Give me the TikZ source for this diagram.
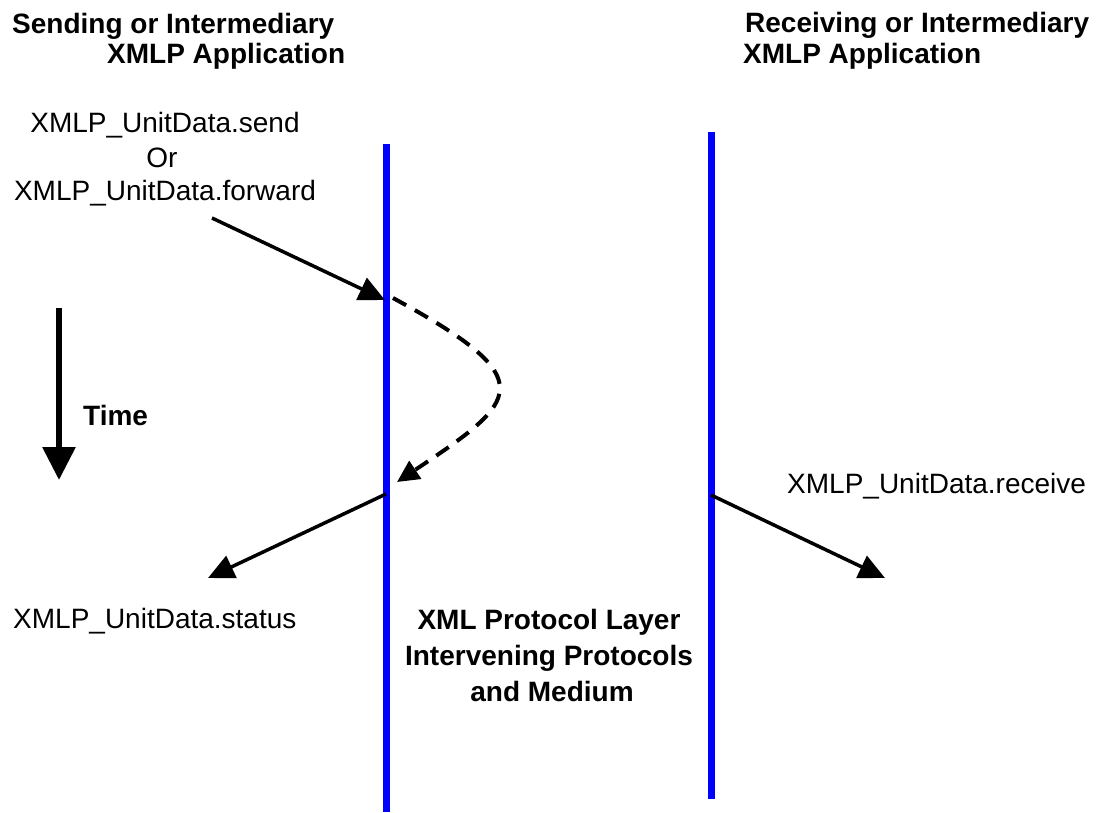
\documentclass[tikz,border=0pt]{standalone}
\usepackage{fontspec}
\setmainfont{Liberation Sans}
\usetikzlibrary{arrows.meta}
\begin{document}
\begin{tikzpicture}[x=1pt,y=-1pt,
  txt/.style={font=\fontsize{28}{34}\selectfont, inner sep=0pt, anchor=base west},
  txtc/.style={txt, anchor=base},
  hdr/.style={txt, font=\fontsize{28}{34}\selectfont\bfseries},
  hdrc/.style={hdr, anchor=base},
  layer/.style={draw=blue, line width=7pt},
  msg/.style={line width=3.5pt, -{Triangle[length=26pt,width=24pt]}},
  loop/.style={line width=4pt, dash pattern=on 15pt off 10pt, -{Triangle[length=22pt,width=21pt]}},
  timearrow/.style={line width=6pt, -{Triangle[length=33pt,width=32pt]}},
]
\useasboundingbox (0,0) rectangle (1096,812);

% headings of the two applications
\node[hdr] (sendHead1) at (12,33) {Sending or Intermediary};
\node[hdr] (sendHead2) at (107,63) {XMLP Application};
\node[hdr] (recvHead1) at (745,32) {Receiving or Intermediary};
\node[hdr] (recvHead2) at (743,63) {XMLP Application};

% service primitives
\node[txtc] (sendPrim) at (165,132) {XMLP\_UnitData.send};
\node[txtc] (orWord) at (162,167) {Or};
\node[txtc] (fwdPrim) at (165,200) {XMLP\_UnitData.forward};
\node[txt] (statusPrim) at (13,628) {XMLP\_UnitData.status};
\node[txt] (recvPrim) at (787,493) {XMLP\_UnitData.receive};

% protocol layer label
\node[hdrc] (layer1) at (549,629) {XML Protocol Layer};
\node[hdrc] (layer2) at (549,665) {Intervening Protocols};
\node[hdrc] (layer3) at (552,701) {and Medium};

% time axis
\node[hdr] (timeLbl) at (83,425) {Time};
\coordinate (timeFrom) at (59,308);
\coordinate (timeTo) at (59,480);
\draw[timearrow] (timeFrom) -- (timeTo);

% layer boundaries
\coordinate (leftTop) at (386.5,144);
\coordinate (leftBot) at (386.5,812);
\coordinate (rightTop) at (711,132);
\coordinate (rightBot) at (711,799);
\draw[layer] (leftTop) -- (leftBot);
\draw[layer] (rightTop) -- (rightBot);

% message flow
\coordinate (sendFrom) at (212,218);
\coordinate (sendTo) at (385,300);
\coordinate (loopFrom) at (393,298);
\coordinate (loopTo) at (397,482);
\coordinate (statusFrom) at (386,494);
\coordinate (statusTo) at (208,578);
\coordinate (recvFrom) at (711,495);
\coordinate (recvTo) at (885,578);

\draw[msg] (sendFrom) -- (sendTo);
\draw[loop] (loopFrom) .. controls (544,380) and (520,400) .. (loopTo);
\draw[msg] (statusFrom) -- (statusTo);
\draw[msg] (recvFrom) -- (recvTo);
\end{tikzpicture}
\end{document}
